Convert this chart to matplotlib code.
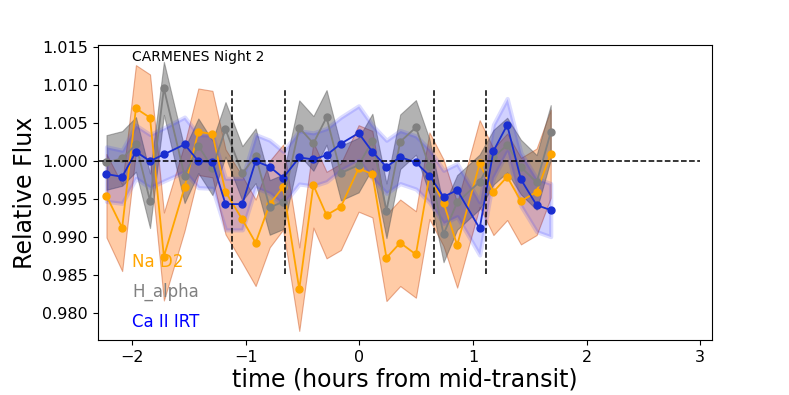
import matplotlib
matplotlib.use("Agg")
import matplotlib.pyplot as plt
import numpy as np

# time in hours from mid-transit
time_hr = [-2.224, -2.086, -1.965, -1.841, -1.719, -1.537, -1.416, -1.292, -1.177, -1.029,
           -0.912, -0.788, -0.670, -0.528, -0.404, -0.288, -0.162, -0.006, 0.115, 0.239,
           0.360, 0.498, 0.617, 0.741, 0.861, 1.059, 1.180, 1.301, 1.422, 1.560, 1.684]

na_flux = [0.99543, 0.99120, 1.00695, 1.00572, 0.98742, 0.99653, 1.00387, 1.00356, 0.99595, 0.99230,
           0.98923, 0.99433, 0.99657, 0.98311, 0.99683, 0.99288, 0.99398, 0.99903, 0.99828, 0.98725,
           0.98923, 0.98769, 0.99807, 0.99450, 0.98892, 0.99969, 0.99595, 0.99793, 0.99472, 0.99595,
           1.00097]
na_err = [0.0055, 0.0057, 0.0057, 0.0057, 0.0058, 0.0057, 0.0057, 0.0057, 0.0056, 0.0057,
          0.0057, 0.0057, 0.0056, 0.0055, 0.0056, 0.0057, 0.0057, 0.0057, 0.0057, 0.0057,
          0.0057, 0.0057, 0.0057, 0.0057, 0.0056, 0.0057, 0.0057, 0.0057, 0.0057, 0.0057,
          0.0058]

ha_flux = [0.99982, 1.00035, 1.00220, 0.99477, 1.00959, 0.99807, 1.00202, 0.99912, 1.00418, 0.99837,
           1.00070, 0.99389, 0.99463, 1.00440, 1.00233, 1.00576, 0.99842, 0.99947, 1.00264, 0.99345,
           1.00255, 1.00444, 0.99930, 0.99037, 0.99455, 0.99727, 1.00050, 1.00211, 0.99921, 0.99719,
           1.00378]
ha_err = [0.0036, 0.0036, 0.0036, 0.0036, 0.0035, 0.0036, 0.0036, 0.0036, 0.0036, 0.0036,
          0.0036, 0.0036, 0.0036, 0.0036, 0.0036, 0.0036, 0.0036, 0.0036, 0.0036, 0.0036,
          0.0036, 0.0036, 0.0036, 0.0037, 0.0036, 0.0036, 0.0036, 0.0036, 0.0036, 0.0036,
          0.0036]

ca_flux = [0.99828, 0.99793, 1.00123, 1.00000, 1.00088, 1.00220, 1.00000, 0.99991, 0.99433, 0.99433,
           1.00000, 0.99925, 0.99780, 1.00048, 1.00022, 1.00079, 1.00229, 1.00369, 1.00123, 0.99925,
           1.00053, 0.99982, 0.99807, 0.99529, 0.99617, 0.99112, 1.00132, 1.00475, 0.99758, 0.99420,
           0.99354]
ca_err = [0.0036, 0.0035, 0.0035, 0.0035, 0.0035, 0.0036, 0.0035, 0.0035, 0.0034, 0.0034,
          0.0035, 0.0035, 0.0035, 0.0035, 0.0035, 0.0035, 0.0035, 0.0036, 0.0035, 0.0035,
          0.0035, 0.0035, 0.0035, 0.0035, 0.0035, 0.0035, 0.0035, 0.0035, 0.0035, 0.0035,
          0.0035]

contacts = [-1.118, -0.656, 0.656, 1.118]

t = np.array(time_hr)

fig = plt.figure(figsize=(7.89, 3.95), dpi=100)
ax = fig.add_axes([0.124, 0.139, 0.778, 0.747])

# shaded uncertainty bands
na = np.array(na_flux); nae = np.array(na_err)
ha = np.array(ha_flux); hae = np.array(ha_err)
ca = np.array(ca_flux); cae = np.array(ca_err)

ax.fill_between(t, na - nae, na + nae, facecolor='#ff8c3a', alpha=0.45,
                edgecolor='#c8501e', linewidth=0.8)
ax.fill_between(t, ha - hae, ha + hae, facecolor='#555555', alpha=0.45,
                edgecolor='#555555', linewidth=0.8)
ax.fill_between(t, ca - cae, ca + cae, facecolor='blue', alpha=0.18,
                edgecolor=(0.25, 0.25, 1.0, 0.35), linewidth=3)

ax.plot(t, na, '-o', color='orange', markersize=5, linewidth=1.3)
ax.plot(t, ha, '-o', color='gray', markersize=5, linewidth=1.3)
ax.plot(t, ca, '-o', color='#1a2ed0', markersize=5, linewidth=1.3)

ax.plot([-2.3, 3.0], [1.0, 1.0], '--', color='black', linewidth=1.1)
for c in contacts:
    ax.plot([c, c], [0.9851, 1.0096], '--', color='black', linewidth=1.1)

ax.text(-2.0, 1.0137, 'CARMENES Night 2', fontsize=10, va='center', ha='left')
ax.text(-2.0, 0.9867, 'Na D2', color='orange', fontsize=12, va='center', ha='left')
ax.text(-2.0, 0.9828, 'H_alpha', color='gray', fontsize=12, va='center', ha='left')
ax.text(-2.0, 0.9788, 'Ca II IRT', color='blue', fontsize=12, va='center', ha='left')

ax.set_xlim(-2.30, 3.10)
ax.set_ylim(0.9764, 1.0153)
ax.set_xticks([-2, -1, 0, 1, 2, 3])
ax.set_yticks([0.980, 0.985, 0.990, 0.995, 1.000, 1.005, 1.010, 1.015])
ax.set_yticklabels(['0.980', '0.985', '0.990', '0.995', '1.000', '1.005', '1.010', '1.015'])
ax.tick_params(labelsize=11.5)
ax.set_xlabel('time (hours from mid-transit)', fontsize=17, labelpad=2)
ax.set_ylabel('Relative Flux', fontsize=17)

fig.savefig('out.png', dpi=100)
